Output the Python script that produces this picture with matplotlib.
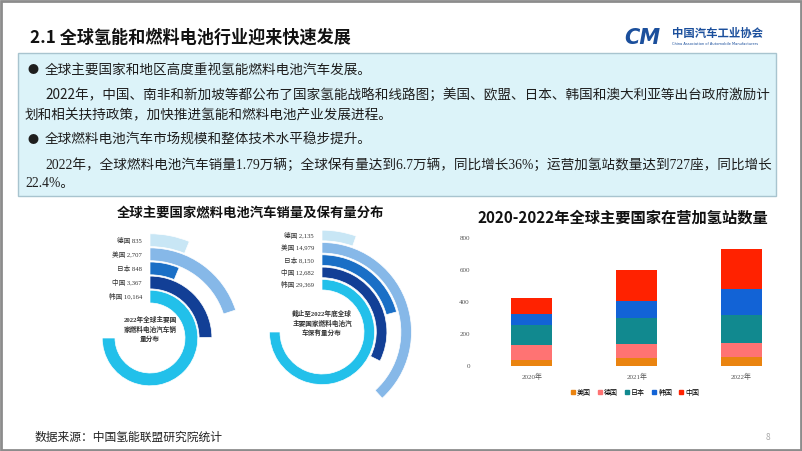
import numpy as np
import matplotlib
matplotlib.use("Agg")
import matplotlib.pyplot as plt
from matplotlib.patches import Rectangle
from matplotlib.lines import Line2D

plt.rcParams['font.family'] = ['Noto Sans CJK SC', 'DejaVu Sans']
SERIF = ['Liberation Serif', 'Noto Sans CJK SC']

W, H = 802, 451

# ring charts, inner ring first
ring_names = ['韩国', '中国', '日本', '美国', '德国']
sales_2022 = [10164, 3367, 848, 2707, 835]
stock_2022 = [29369, 12682, 8150, 14979, 2135]
ring_colors = ['#22c0ea', '#123f96', '#1a6fc6', '#86b8e8', '#c8e6f5']

# hydrogen stations in operation
years = ['2020年', '2021年', '2022年']
bar_names = ['美国', '德国', '日本', '韩国', '中国']
us_st = [40, 48, 54]
de_st = [88, 89, 92]
jp_st = [130, 161, 170]
kr_st = [68, 110, 165]
cn_st = [98, 188, 246]
bar_colors = ['#ea8410', '#ff7373', '#11898f', '#1263d6', '#ff2200']


def frect(x0, y0, w, h):
    # pixel box (top-left origin) -> figure fraction
    return [x0 / W, 1 - (y0 + h) / H, w / W, h / H]


fig = plt.figure(figsize=(W / 100, H / 100), dpi=100)
bg = fig.add_axes([0, 0, 1, 1])
bg.set_xlim(0, W)
bg.set_ylim(H, 0)
bg.axis('off')

# frame and header
bg.add_patch(Rectangle((1, 1), W - 2, H - 2, fill=False, ec='#8c8c8c', lw=2))
bg.text(30, 38, '2.1 全球氢能和燃料电池行业迎来快速发展', fontsize=12.3,
        fontweight='bold', va='center', color='#111')
bg.text(624, 38, 'CM', fontsize=15, fontweight='bold', style='italic',
        color='#1b4f9c', va='center', family='DejaVu Sans')
bg.text(672, 33, '中国汽车工业协会', fontsize=8.2, fontweight='bold',
        color='#1b4f9c', va='center')
bg.text(672, 44, 'China Association of Automobile Manufacturers', fontsize=2.6,
        color='#1b4f9c', va='center', family='DejaVu Sans')

# blue text box
bg.add_patch(Rectangle((18, 53), 758, 143, fc='#dcf3f9', ec='#a8c4cf', lw=1))
body = '#1e1e1e'
fs = 9.8
bg.text(27, 70, '●', fontsize=8, va='center', color=body)
bg.text(45, 70, '全球主要国家和地区高度重视氢能燃料电池汽车发展。', fontsize=fs,
        va='center', color=body)
bg.text(45, 95, '2022年，中国、南非和新加坡等都公布了国家氢能战略和线路图；美国、欧盟、'
        '日本、韩国和澳大利亚等出台政府激励计', fontsize=fs, va='center', color=body)
bg.text(25, 115, '划和相关扶持政策，加快推进氢能和燃料电池产业发展进程。', fontsize=fs,
        va='center', color=body)
bg.text(27, 140, '●', fontsize=8, va='center', color=body)
bg.text(45, 140, '全球燃料电池汽车市场规模和整体技术水平稳步提升。', fontsize=fs,
        va='center', color=body)
bg.text(45, 165, '2022年，全球燃料电池汽车销量1.79万辆；全球保有量达到6.7万辆，同比增长36%；'
        '运营加氢站数量达到727座，同比增长', fontsize=fs, va='center', color=body,
        family=SERIF)
bg.text(25, 184, '22.4%。', fontsize=fs, va='center', color=body, family=SERIF)

# footer
bg.text(35, 437, '数据来源：中国氢能联盟研究院统计', fontsize=8.5, va='center', color='#222')
bg.text(766, 437, '8', fontsize=6, va='center', color='#aaa')

# left section title
bg.text(251, 213, '全球主要国家燃料电池汽车销量及保有量分布', fontsize=9.6,
        fontweight='bold', ha='center', va='center', color='#111')


def radial(cx, cy, rmax, values, r0, pitch, width, center_text):
    ax = fig.add_axes(frect(cx - rmax, cy - rmax, 2 * rmax, 2 * rmax), projection='polar')
    ax.set_theta_zero_location('N')
    ax.set_theta_direction(-1)
    ax.set_ylim(0, rmax)
    scale = 1.5 * np.pi / max(values)
    for i, v in enumerate(values):
        ax.bar(0, width, width=v * scale, bottom=r0 + i * pitch, align='edge',
               color=ring_colors[i], edgecolor='white', linewidth=0.5)
        bg.text(cx - 8, cy - (r0 + i * pitch + width / 2), f'{ring_names[i]} {v:,}',
                fontsize=4.8, ha='right', va='center', color='#333', family=SERIF)
    ax.axis('off')
    ax.patch.set_alpha(0)
    bg.text(cx, cy - 9, center_text, fontsize=4.8, fontweight='bold', ha='center',
            va='center', color='#333', linespacing=1.45, family=SERIF)


radial(150, 338, 108, sales_2022, 35, 14.1, 12.8,
       '2022年全球主要国\n家燃料电池汽车销\n量分布')
radial(322, 332, 104, stock_2022, 42, 12.3, 10.6,
       '截止至2022年底全球\n主要国家燃料电池汽\n车保有量分布')

# stacked bars
bg.text(623, 218, '2020-2022年全球主要国家在营加氢站数量', fontsize=11,
        fontweight='bold', ha='center', va='center', color='#111')
axb = fig.add_axes(frect(479.5, 237.7, 314.5, 128.3))
x = np.arange(len(years))
series = [us_st, de_st, jp_st, kr_st, cn_st]
base = np.zeros(len(years))
for name, vals, c in zip(bar_names, series, bar_colors):
    axb.bar(x, vals, 0.39, bottom=base, color=c, label=name)
    base += np.array(vals)
axb.set_xlim(-0.5, 2.5)
axb.set_ylim(0, 800)
axb.set_yticks([0, 200, 400, 600, 800])
axb.set_xticks(x)
axb.set_xticklabels(years)
for s in axb.spines.values():
    s.set_visible(False)
axb.tick_params(length=0, labelsize=5, colors='#555')
axb.tick_params(axis='y', pad=7)
axb.tick_params(axis='x', pad=5)
for t in axb.get_xticklabels() + axb.get_yticklabels():
    t.set_family(SERIF)
axb.patch.set_alpha(0)
handles = [Line2D([], [], marker='s', ls='', color=c, markersize=2.5) for c in bar_colors]
axb.legend(handles, bar_names, loc='center', bbox_to_anchor=(635 / W, 1 - 392 / H),
           bbox_transform=fig.transFigure, ncol=5, frameon=False, fontsize=5,
           handlelength=0.6, handletextpad=0.3, columnspacing=1.0,
           prop={'family': SERIF, 'size': 5})

fig.savefig('out.png', dpi=100)
